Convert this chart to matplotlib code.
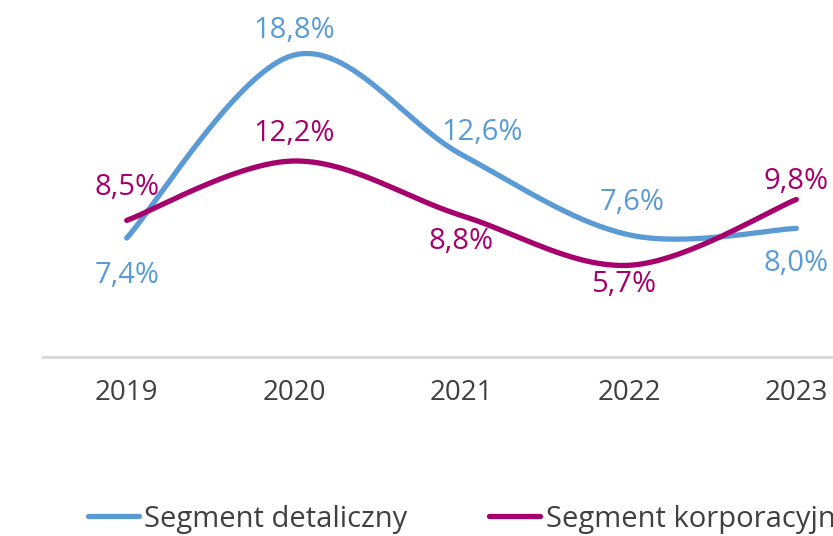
import matplotlib
matplotlib.use("Agg")
import matplotlib.pyplot as plt
import numpy as np

years = ["2019", "2020", "2021", "2022", "2023"]
detaliczny = [7.4, 18.8, 12.6, 7.6, 8.0]
korporacyjny = [8.5, 12.2, 8.8, 5.7, 9.8]
series_names = ["Segment detaliczny", "Segment korporacyjny"]

BLUE = "#5B9BD5"
MAGENTA = "#A5006B"

# label offsets (points) relative to each data point
off_det = [(0, -27), (0, 18), (15, 16), (2, 23), (0, -25)]
off_kor = [(0, 24), (0, 20), (0, -19), (-4, -14), (0, 13)]

plt.rcParams["font.family"] = ["Open Sans", "DejaVu Sans"]


def smooth(xs, ys, n=60):
    # Excel-like smoothed line: cubic Bezier with Catmull-Rom control points
    p = np.column_stack((xs, ys)).astype(float)
    m = len(p)
    out = []
    for i in range(m - 1):
        p0 = p[max(i - 1, 0)]
        p1 = p[i]
        p2 = p[i + 1]
        p3 = p[min(i + 2, m - 1)]
        c1 = p1 + (p2 - p0) / 6
        c2 = p2 - (p3 - p1) / 6
        t = np.linspace(0, 1, n)[:, None]
        seg = ((1 - t) ** 3) * p1 + 3 * ((1 - t) ** 2) * t * c1 \
            + 3 * (1 - t) * t ** 2 * c2 + t ** 3 * p2
        out.append(seg if i == 0 else seg[1:])
    curve = np.vstack(out)
    return curve[:, 0], curve[:, 1]


fig = plt.figure(figsize=(8.33, 5.36), dpi=100)
W, H = 833, 536
ax = fig.add_axes([43 / W, (H - 356.8) / H, 837 / W, 356.8 / H])

x = np.arange(len(years))
for vals, col, offs, name in [(detaliczny, BLUE, off_det, series_names[0]),
                              (korporacyjny, MAGENTA, off_kor, series_names[1])]:
    sx, sy = smooth(x, vals)
    ax.plot(sx, sy, color=col, lw=3.8, solid_capstyle="round", label=name)
    for xi, v, (dx, dy) in zip(x, vals, offs):
        ax.annotate(f"{v:.1f}%".replace(".", ","), (xi, v), xytext=(dx, dy),
                    textcoords="offset points", ha="center", va="center",
                    color=col, fontsize=21)

ax.set_xlim(-0.5, 4.5)
ax.set_ylim(0, 22.23)
ax.set_xticks(x)
ax.set_xticklabels(years, fontsize=20, color="#404040")
ax.tick_params(axis="x", length=0, pad=16)
ax.set_yticks([])
for s in ["top", "right", "left"]:
    ax.spines[s].set_visible(False)
ax.spines["bottom"].set_color("#D9D9D9")
ax.spines["bottom"].set_linewidth(2.2)
ax.spines["bottom"].set_clip_on(False)

fig.legend(loc="center left", bbox_to_anchor=(88 / W, 1 - 519 / H),
           ncol=2, frameon=False, fontsize=21, borderpad=0, borderaxespad=0,
           handlelength=1.75, handletextpad=0.18, columnspacing=2.8,
           labelcolor="#404040")

fig.savefig("out.png", dpi=100)
